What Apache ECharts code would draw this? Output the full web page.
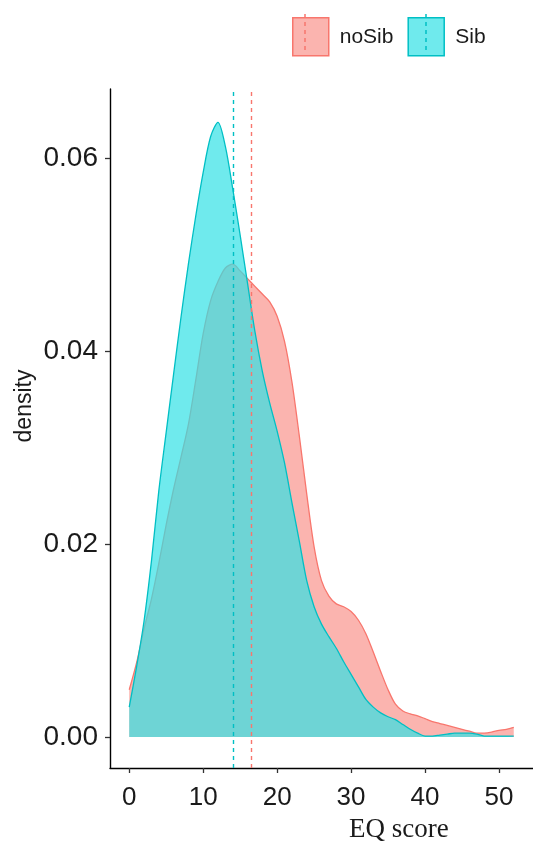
<!DOCTYPE html>
<html>
<head>
<meta charset="utf-8">
<script src="https://cdn.jsdelivr.net/npm/echarts@6/dist/echarts.min.js"></script>
<style>html,body{margin:0;padding:0;background:#fff;}#c{width:533px;height:852px;}</style>
</head>
<body>
<div id="c"></div>
<script>
const xValues = [0,1,2,3,4,5,6,7,8,9,10,11,12,13,14,15,16,17,18,19,20,21,22,23,24,25,26,27,28,29,30,31,32,33,34,35,36,37,38,39,40,41,42,43,44,45,46,47,48,49,50,51,52];
const noSibDensity = [0.0049,0.0077,0.0112,0.0143,0.0180,0.0220,0.0257,0.0290,0.0324,0.0370,0.0418,0.0452,0.0472,0.0486,0.0490,0.0483,0.0475,0.0467,0.0459,0.0451,0.0436,0.0410,0.0368,0.0312,0.0252,0.0197,0.0162,0.0146,0.0138,0.0135,0.0130,0.0121,0.0107,0.0088,0.0068,0.0049,0.0034,0.0027,0.0024,0.0022,0.0019,0.0016,0.0014,0.0012,0.0010,0.0008,0.0006,0.0004,0.0004,0.0005,0.0007,0.0008,0.0010];
const sibDensity = [0.0031,0.0073,0.0120,0.0182,0.0255,0.0316,0.0376,0.0435,0.0490,0.0540,0.0585,0.0622,0.0637,0.0612,0.0568,0.0520,0.0470,0.0420,0.0379,0.0346,0.0317,0.0284,0.0243,0.0203,0.0162,0.0135,0.0117,0.0104,0.0092,0.0078,0.0065,0.0052,0.0039,0.0031,0.0025,0.0021,0.0018,0.0013,0.0008,0.0004,0.0001,0.0001,0.0002,0.0003,0.0004,0.0004,0.0004,0.0003,0.0001,0.0001,0.0001,0.0001,0.0001];
const groupNames = ['noSib','Sib'];
const groupMeans = [16.5, 14.0];
const xTicks = [0,10,20,30,40,50];
const yTicks = [0,0.02,0.04,0.06];

const lineColors = ['#F8766D','#00BFC4'];
const fillColors = ['rgba(248,118,109,0.55)','rgba(50,225,230,0.7)'];

const chart = echarts.init(document.getElementById('c'), null, {renderer:'canvas'});
function pairs(vals){ return xValues.map((x,i)=>[x, vals[i]]); }
const seriesVals = [noSibDensity, sibDensity];

const series = groupNames.map((name,i)=>({
  name: name,
  type: 'line',
  data: pairs(seriesVals[i]),
  smooth: 0.3,
  showSymbol: false,
  symbol: 'none',
  z: 2 + i,
  lineStyle: {color: lineColors[i], width: 1.3},
  itemStyle: {color: fillColors[i]},
  areaStyle: {color: fillColors[i], opacity: 1, origin: 0},
  markLine: {
    silent: true,
    symbol: ['none','none'],
    label: {show:false},
    z: 10,
    lineStyle: {color: lineColors[i], type: [4,4], width: 1.4, opacity: 1},
    data: [{xAxis: groupMeans[i]}]
  }
}));

chart.setOption({
  animation: false,
  backgroundColor: '#fff',
  grid: {left: 110, top: 89, width: 427, height: 679, containLabel: false},
  xAxis: {
    type: 'value', min: -2.6, max: 54.6,
    axisLine: {show: true, onZero: false, lineStyle: {color: '#000', width: 1.4}},
    axisTick: {show: true, length: 5, lineStyle: {color: '#333', width: 1.3}, customValues: xTicks},
    axisLabel: {show: true, customValues: xTicks, color: '#1a1a1a', fontSize: 26, fontFamily: 'Liberation Sans', margin: 17},
    splitLine: {show: false}
  },
  yAxis: {
    type: 'value', min: -0.00321, max: 0.06715,
    axisLine: {show: true, onZero: false, lineStyle: {color: '#000', width: 1.4}},
    axisTick: {show: true, length: 5, lineStyle: {color: '#333', width: 1.3}, customValues: yTicks},
    axisLabel: {show: true, customValues: yTicks, color: '#1a1a1a', fontSize: 28, fontFamily: 'Liberation Sans', margin: 12,
      formatter: v => v.toFixed(2)},
    splitLine: {show: false}
  },
  legend: {
    left: 287, top: 12,
    itemWidth: 36, itemHeight: 38, itemGap: 14,
    icon: 'rect',
    data: groupNames.map((n,i)=>({name: n, itemStyle: {color: fillColors[i], borderColor: lineColors[i], borderWidth: 1.5}})),
    textStyle: {fontSize: 21, fontFamily: 'Liberation Sans', color: '#1a1a1a', padding: [0,0,0,6]}
  },
  graphic: [
    {type:'text', x: 25, y: 406, rotation: Math.PI/2,
      style: {text: 'density', font: '23px "Liberation Sans"', fill: '#1a1a1a', align: 'center', verticalAlign: 'middle'}},
    {type:'text', left: 349, top: 816, style: {text: 'EQ score', font: '27px "Liberation Serif"', fill: '#1a1a1a'}},
    {type:'line', shape:{x1:305,y1:14,x2:305,y2:50}, style:{stroke: lineColors[0], lineWidth:1.5, lineDash:[4,4]}, z: 100},
    {type:'line', shape:{x1:426,y1:14,x2:426,y2:50}, style:{stroke: lineColors[1], lineWidth:1.5, lineDash:[4,4]}, z: 100}
  ],
  series: series
});
</script>
</body>
</html>
